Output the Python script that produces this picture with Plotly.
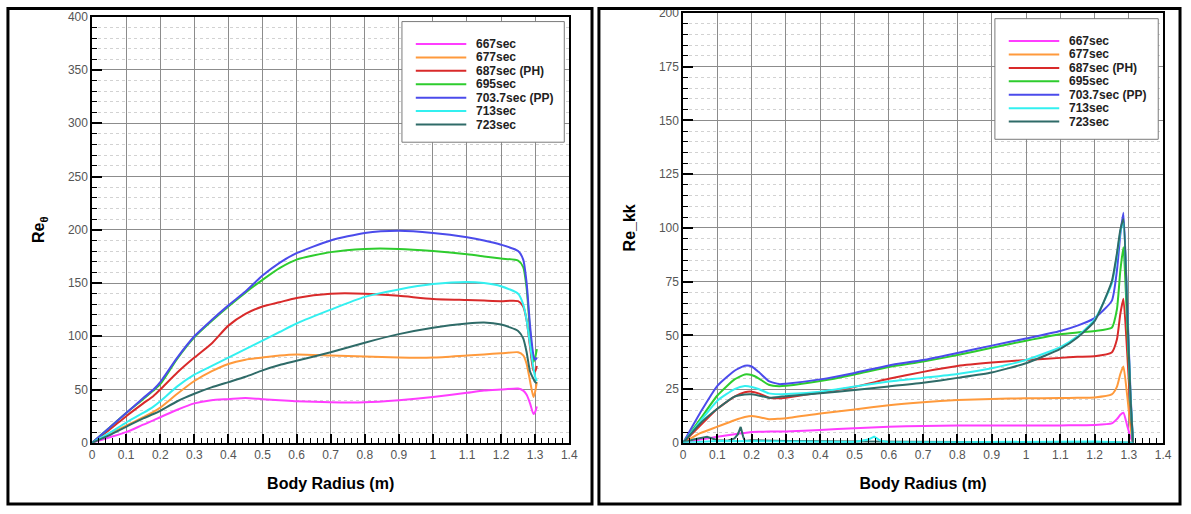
import plotly.graph_objects as go

W, H = 1191, 514

# ---- series definitions -------------------------------------------------
series_names = ["667sec", "677sec", "687sec (PH)", "695sec", "703.7sec (PP)", "713sec", "723sec"]
series_colors = ["#FF3DFF", "#FF9A3C", "#D92A2A", "#2ECC2E", "#4B4BEB", "#33F0F0", "#2F6B68"]

# ---- Re_theta vs body radius ----------------------------------------------
r_theta = [0, 0.05, 0.1, 0.15, 0.18, 0.2, 0.25, 0.3, 0.35, 0.4, 0.45, 0.5, 0.55, 0.6,
           0.7, 0.8, 0.9, 1.0, 1.1, 1.15, 1.2, 1.25, 1.265, 1.275, 1.285, 1.295, 1.3, 1.305]

re_theta_667 = [0, 5, 10, 17, 21, 24, 31, 37, 40, 41, 42, 41, 40, 39,
                38, 38, 40, 43, 47, 49, 50, 51, 49, 45, 37, 27, 29, 34]
re_theta_677 = [0, 8, 16, 24, 29, 33, 46, 58, 67, 74, 78, 80, 82, 83,
                82, 81, 80, 80, 82, 83, 84, 85, 82, 74, 58, 43, 48, 57]
re_theta_687 = [0, 12, 25, 37, 44, 50, 66, 80, 93, 110, 121, 128, 132, 136,
                140, 140, 138, 135, 134, 133.5, 133, 133, 128, 115, 90, 68, 67, 72]
re_theta_695 = [0, 14, 28, 41, 49, 55, 79, 99, 114, 128, 141, 153, 164, 172,
                179, 182, 182, 180, 177, 175, 173, 171, 165, 145, 105, 76, 80, 88]
re_theta_7037 = [0, 14, 28, 42, 50, 57, 80, 100, 115, 129, 142, 157, 169, 178,
                 190, 197, 199, 197, 193, 190, 186, 180, 172, 150, 110, 82, 78, 80]
re_theta_713 = [0, 9, 19, 28, 34, 39, 53, 64, 72, 80, 88, 96, 104, 112,
                125, 137, 144, 149, 151, 150, 147, 140, 130, 115, 92, 70, 62, 58]
re_theta_723 = [0, 7, 15, 23, 27, 30, 39, 46, 52, 57, 62, 68, 73, 77,
                85, 94, 102, 108, 112, 113, 111, 105, 98, 85, 67, 60, 57, 56]

re_theta = [re_theta_667, re_theta_677, re_theta_687, re_theta_695,
            re_theta_7037, re_theta_713, re_theta_723]

# ---- Re_kk vs body radius -------------------------------------------------
r_kk = [0, 0.05, 0.1, 0.15, 0.18, 0.2, 0.22, 0.25, 0.28, 0.3, 0.4, 0.5, 0.6, 0.7,
        0.8, 0.9, 1.0, 1.1, 1.15, 1.2, 1.25, 1.265, 1.275, 1.284, 1.295, 1.305, 1.312]

re_kk_667 = [0, 1.5, 2.8, 4, 4.6, 5, 5.1, 5.2, 5.3, 5.3, 6, 6.8, 7.5, 7.8,
             8, 8, 8, 8.1, 8.2, 8.3, 9, 11, 13, 14, 8, 2.5, 0]
re_kk_677 = [0, 4.5, 7.5, 10.5, 12, 12.5, 12, 11, 11.2, 11.4, 13.6, 15.5, 17.5, 18.9,
             19.9, 20.4, 20.7, 20.8, 20.9, 21.1, 22.5, 26, 32, 35.5, 22, 7, 0]
re_kk_687 = [0, 8, 15.8, 21.5, 23.5, 23.8, 23, 21, 20.7, 21, 23.4, 26, 29.8, 33,
             35.7, 37.3, 38.5, 39.5, 40, 40.3, 42, 48, 60, 67, 42, 14, 0]
re_kk_695 = [0, 11, 22, 29.5, 31.8, 31.5, 30, 27, 26.3, 26.5, 28.7, 31.8, 35.3, 37.8,
             40.8, 44.2, 47.5, 50.5, 51.3, 52, 53.5, 62, 80, 91, 55, 18, 0]
re_kk_7037 = [0, 14, 26.5, 33.5, 35.8, 35.5, 33, 28.7, 27.3, 27.5, 29.5, 32.5, 36, 38.5,
              41.8, 45.2, 48.5, 52, 54.5, 58, 66, 80, 97, 107, 65, 22, 0]
re_kk_713 = [0, 10, 19.6, 25, 26.4, 26, 25, 23, 22.6, 22.7, 23.8, 26.2, 28.5, 30.2,
             32, 34.7, 38.5, 44.5, 49.5, 57.3, 74, 87, 98, 103, 62, 20, 0]
re_kk_723 = [0, 9, 15.8, 21.5, 22.5, 22.6, 22, 21, 21.3, 21.7, 23, 24.6, 26.2, 27.9,
             30.2, 32.7, 37, 43.7, 49, 56.6, 75, 88, 99, 104, 62, 20, 0]

re_kk = [re_kk_667, re_kk_677, re_kk_687, re_kk_695, re_kk_7037, re_kk_713, re_kk_723]

# near-wall branches that stay close to zero
r_kk_low_723 = [0, 0.03, 0.07, 0.1, 0.13, 0.15, 0.16, 0.168, 0.175, 0.18, 0.2, 0.3, 0.5, 0.7, 1.0, 1.2, 1.31]
re_kk_low_723 = [0, 1.5, 2.8, 1.2, 1.0, 2.0, 4.0, 7.4, 3.0, 0.8, 1.2, 0.8, 0.6, 0.4, 0.3, 0.4, 0]
r_kk_low_713 = [0, 0.1, 0.3, 0.5, 0.54, 0.557, 0.575, 0.6, 0.8, 1.0, 1.2, 1.31]
re_kk_low_713 = [0, 0.8, 0.6, 0.4, 1.5, 2.9, 1.0, 0.3, 0.3, 0.4, 0.6, 0]

fig = go.Figure()

for name, color, ys in zip(series_names, series_colors, re_theta):
    fig.add_trace(go.Scatter(x=r_theta, y=ys, mode="lines", name=name,
                             line=dict(color=color, width=2, shape="spline", smoothing=0.6),
                             xaxis="x", yaxis="y", showlegend=False))

for name, color, ys in zip(series_names, series_colors, re_kk):
    fig.add_trace(go.Scatter(x=r_kk, y=ys, mode="lines", name=name,
                             line=dict(color=color, width=2, shape="spline", smoothing=0.5),
                             xaxis="x2", yaxis="y2", showlegend=False))

fig.add_trace(go.Scatter(x=r_kk_low_723, y=re_kk_low_723, mode="lines",
                         line=dict(color=series_colors[6], width=2),
                         xaxis="x2", yaxis="y2", showlegend=False, hoverinfo="skip"))
fig.add_trace(go.Scatter(x=r_kk_low_713, y=re_kk_low_713, mode="lines",
                         line=dict(color=series_colors[5], width=2),
                         xaxis="x2", yaxis="y2", showlegend=False, hoverinfo="skip"))

TICK_FONT = dict(family="Liberation Sans, Arial, sans-serif", size=12, color="#555555")
TITLE_FONT = dict(family="Liberation Sans, Arial, sans-serif", size=16, color="black")


def xaxis_style(domain, fsize):
    return dict(domain=domain, range=[0, 1.4], tick0=0, dtick=0.1,
                ticks="inside", ticklen=9, tickwidth=2, tickcolor="black",
                showgrid=True, gridcolor="#8c8c8c", gridwidth=1,
                showline=True, linecolor="black", linewidth=1.5, mirror=True,
                zeroline=False, tickfont=dict(TICK_FONT, size=fsize),
                minor=dict(dtick=0.02, ticks="inside", ticklen=5, tickwidth=1,
                           tickcolor="black", showgrid=False),
                title=dict(text="<b>Body Radius (m)</b>", font=TITLE_FONT, standoff=17))


def yaxis_style(domain, top, major, minor, title, fsize, anchor):
    return dict(domain=domain, range=[0, top], tick0=0, dtick=major, anchor=anchor,
                ticks="inside", ticklen=10, tickwidth=2, tickcolor="black",
                showgrid=True, gridcolor="#8c8c8c", gridwidth=1,
                showline=True, linecolor="black", linewidth=1.5, mirror=True,
                zeroline=False, tickfont=dict(TICK_FONT, size=fsize),
                minor=dict(dtick=minor, ticks="inside", ticklen=5, tickwidth=1,
                           tickcolor="black", showgrid=True, gridcolor="#d2d2d2",
                           griddash="dot", gridwidth=1),
                title=dict(text=title, font=TITLE_FONT, standoff=19))


def px_x(p):
    return p / W


def px_y(p):
    return 1 - p / H


fig.update_layout(
    width=W, height=H,
    margin=dict(l=0, r=0, t=0, b=0),
    paper_bgcolor="white", plot_bgcolor="white",
    xaxis=dict(xaxis_style([px_x(90), px_x(572)], 12), anchor="y"),
    yaxis=yaxis_style([px_y(448), px_y(10)], 400, 50, 10, "<b>Re<sub>θ</sub></b>", 12, "x"),
    xaxis2=dict(xaxis_style([px_x(687), px_x(1172)], 12), anchor="y2"),
    yaxis2=yaxis_style([px_y(448), px_y(6)], 200, 25, 5, "<b>Re_kk</b>", 12, "x2"),
    showlegend=False,
)

shapes = []
annotations = []

# panel frames
for x0, x1 in [(5, 595), (602, 1189)]:
    shapes.append(dict(type="rect", xref="paper", yref="paper",
                       x0=px_x(x0), x1=px_x(x1), y0=px_y(511), y1=px_y(1.5),
                       line=dict(color="black", width=3), fillcolor="rgba(0,0,0,0)"))

# legend boxes with line samples and labels
legend_boxes = [dict(x0=403, x1=567, y0=15, y1=139, line_x0=417, line_x1=468, text_x=476, row0=38),
                dict(x0=1002, x1=1167, y0=12, y1=136, line_x0=1016, line_x1=1067, text_x=1075, row0=35)]
ROW = 13.8
for box in legend_boxes:
    shapes.append(dict(type="rect", xref="paper", yref="paper",
                       x0=px_x(box["x0"]), x1=px_x(box["x1"]),
                       y0=px_y(box["y1"]), y1=px_y(box["y0"]),
                       line=dict(color="#7a7a7a", width=1), fillcolor="white", layer="above"))
    for i, (name, color) in enumerate(zip(series_names, series_colors)):
        yy = box["row0"] + ROW * i
        shapes.append(dict(type="line", xref="paper", yref="paper",
                           x0=px_x(box["line_x0"]), x1=px_x(box["line_x1"]),
                           y0=px_y(yy), y1=px_y(yy),
                           line=dict(color=color, width=2), layer="above"))
        annotations.append(dict(xref="paper", yref="paper", x=px_x(box["text_x"]), y=px_y(yy),
                                xanchor="left", yanchor="middle", showarrow=False,
                                text=f"<b>{name}</b>",
                                font=dict(family="Liberation Sans, Arial, sans-serif",
                                          size=12, color="#222222")))

fig.update_layout(shapes=shapes, annotations=annotations)

fig.write_html("out.html")
